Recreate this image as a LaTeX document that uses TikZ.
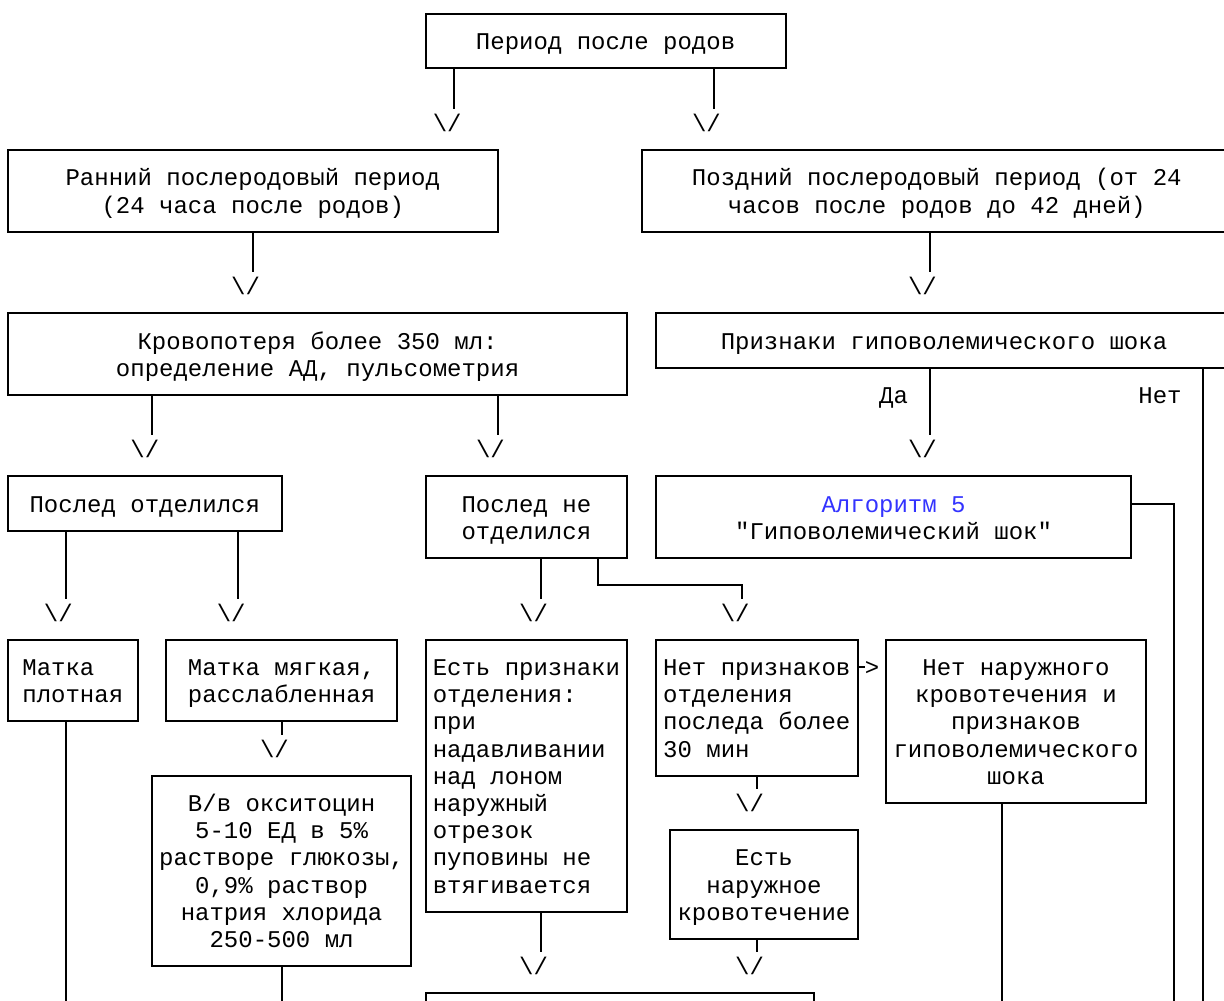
\documentclass[tikz,border=0pt]{standalone}
\usepackage{fontspec}
\setmonofont{Liberation Mono}
\usepackage{tikz}
\usetikzlibrary{calc}

\definecolor{algoblue}{RGB}{51,51,255}
\newcommand{\rs}{\rule[-5pt]{0pt}{27.2pt}}
\newcommand{\cw}{14.4pt}
\newcommand{\rh}{27.2pt}

\tikzset{
  box/.style={draw, line width=2pt, inner sep=0pt, align=center},
  tip/.style={inner sep=0pt},
  link/.style={line width=2pt},
}

\begin{document}
\begin{tikzpicture}[x=14.4pt, y=-27.2pt, font=\ttfamily\fontsize{24}{27.2}\selectfont, line cap=butt]
    \useasboundingbox (-0.5556,-0.5147) rectangle (84.4444,36.2868);
    \clip (-0.5556,-0.5147) rectangle (84.4444,36.2868);
    \coordinate (bot) at (0,36.6);

    \node[box, minimum width=25*\cw, minimum height=2*\rh] (period) at (41.5,1) {\rs Период после родов};
    \node[box, minimum width=34*\cw, minimum height=3*\rh] (early) at (17,6.5)
      {\rs Ранний послеродовый период\\\rs (24 часа после родов)};
    \node[box, minimum width=41*\cw, minimum height=3*\rh] (late) at (64.5,6.5)
      {\rs Поздний послеродовый период (от 24\\\rs часов после родов до 42 дней)};
    \node[box, minimum width=43*\cw, minimum height=3*\rh] (loss) at (21.5,12.5)
      {\rs Кровопотеря более 350 мл:\\\rs определение АД, пульсометрия};
    \node[box, minimum width=40*\cw, minimum height=2*\rh] (shock) at (65,12) {\rs Признаки гиповолемического шока};
    \node[box, minimum width=19*\cw, minimum height=2*\rh] (sep) at (9.5,18) {\rs Послед отделился};
    \node[box, minimum width=14*\cw, minimum height=3*\rh] (nosep) at (36,18.5) {\rs Послед не\\\rs отделился};
    \node[box, minimum width=33*\cw, minimum height=3*\rh] (algo) at (61.5,18.5)
      {\rs\textcolor{algoblue}{Алгоритм 5}\\\rs "Гиповолемический шок"};
    \node[box, align=left, minimum width=9*\cw, minimum height=3*\rh] (dense) at (4.5,24.5) {\rs Матка\\\rs плотная};
    \node[box, minimum width=16*\cw, minimum height=3*\rh] (soft) at (19,24.5) {\rs Матка мягкая,\\\rs расслабленная};
    \node[box, minimum width=18*\cw, minimum height=7*\rh] (oxy) at (19,31.5)
      {\rs В/в окситоцин\\\rs 5-10 ЕД в 5\%\\\rs растворе глюкозы,\\\rs 0,9\% раствор\\\rs натрия хлорида\\\rs 250-500 мл};
    \node[box, align=left, minimum width=14*\cw, minimum height=10*\rh] (signs) at (36,28)
      {\rs Есть признаки\\\rs отделения:\\\rs при\\\rs надавливании\\\rs над лоном\\\rs наружный\\\rs отрезок\\\rs пуповины не\\\rs втягивается};
    \node[box, align=left, minimum width=14*\cw, minimum height=5*\rh] (nosigns) at (52,25.5)
      {\rs Нет признаков\\\rs отделения\\\rs последа более\\\rs 30 мин};
    \node[box, minimum width=18*\cw, minimum height=6*\rh] (nobleed) at (70,26)
      {\rs Нет наружного\\\rs кровотечения и\\\rs признаков\\\rs гиповолемического\\\rs шока};
    \node[box, minimum width=13*\cw, minimum height=4*\rh] (bleed) at (52.5,32)
      {\rs Есть\\\rs наружное\\\rs кровотечение};
    \node[box, minimum width=27*\cw, minimum height=3*\rh] (next) at (42.5,37.5) {};

    \node[tip] (t1) at (30.5,4) {\rs\textbackslash/};
    \node[tip] (t2) at (48.5,4) {\rs\textbackslash/};
    \node[tip] (t3) at (16.5,10) {\rs\textbackslash/};
    \node[tip] (t4) at (63.5,10) {\rs\textbackslash/};
    \node[tip] (t5) at (9.5,16) {\rs\textbackslash/};
    \node[tip] (t6) at (33.5,16) {\rs\textbackslash/};
    \node[tip] (t7) at (63.5,16) {\rs\textbackslash/};
    \node[tip] (t8) at (3.5,22) {\rs\textbackslash/};
    \node[tip] (t9) at (15.5,22) {\rs\textbackslash/};
    \node[tip] (t10) at (36.5,22) {\rs\textbackslash/};
    \node[tip] (t11) at (50.5,22) {\rs\textbackslash/};
    \node[tip] (t12) at (18.5,27) {\rs\textbackslash/};
    \node[tip] (t13) at (51.5,29) {\rs\textbackslash/};
    \node[tip] (t14) at (36.5,35) {\rs\textbackslash/};
    \node[tip] (t15) at (51.5,35) {\rs\textbackslash/};
    \node[tip] (tr) at (60,24) {\rs>};
    \node[tip] (yes) at (61.5,14) {\rs Да};
    \node[tip] (no) at (80,14) {\rs Нет};

    \draw[link] (period.south -| 31,0) -- (t1.north -| 31,0);
    \draw[link] (period.south -| 49,0) -- (t2.north -| 49,0);
    \draw[link] (early.south -| 17,0) -- (t3.north -| 17,0);
    \draw[link] (late.south -| 64,0) -- (t4.north -| 64,0);
    \draw[link] (loss.south -| 10,0) -- (t5.north -| 10,0);
    \draw[link] (loss.south -| 34,0) -- (t6.north -| 34,0);
    \draw[link] (shock.south -| 64,0) -- (t7.north -| 64,0);
    \draw[link] (shock.south -| 83,0) -- (bot -| 83,0);
    \draw[link] (algo.east |- 0,18) -| (bot -| 81,0);
    \draw[link] (sep.south -| 4,0) -- (t8.north -| 4,0);
    \draw[link] (sep.south -| 16,0) -- (t9.north -| 16,0);
    \draw[link] (nosep.south -| 37,0) -- (t10.north -| 37,0);
    \draw[link] (nosep.south -| 41,0) |- (51,21) -- (t11.north -| 51,0);
    \draw[link] (soft.south -| 19,0) -- (t12.north -| 19,0);
    \draw[link] (dense.south -| 4,0) -- (bot -| 4,0);
    \draw[link] (oxy.south -| 19,0) -- (bot -| 19,0);
    \draw[link] (nosigns.south -| 52,0) -- (t13.north -| 52,0);
    \draw[link] (nosigns.east |- 0,24) -- (tr.west);
    \draw[link] (signs.south -| 37,0) -- (t14.north -| 37,0);
    \draw[link] (bleed.south -| 52,0) -- (t15.north -| 52,0);
    \draw[link] (nobleed.south -| 69,0) -- (bot -| 69,0);
\end{tikzpicture}
\end{document}
